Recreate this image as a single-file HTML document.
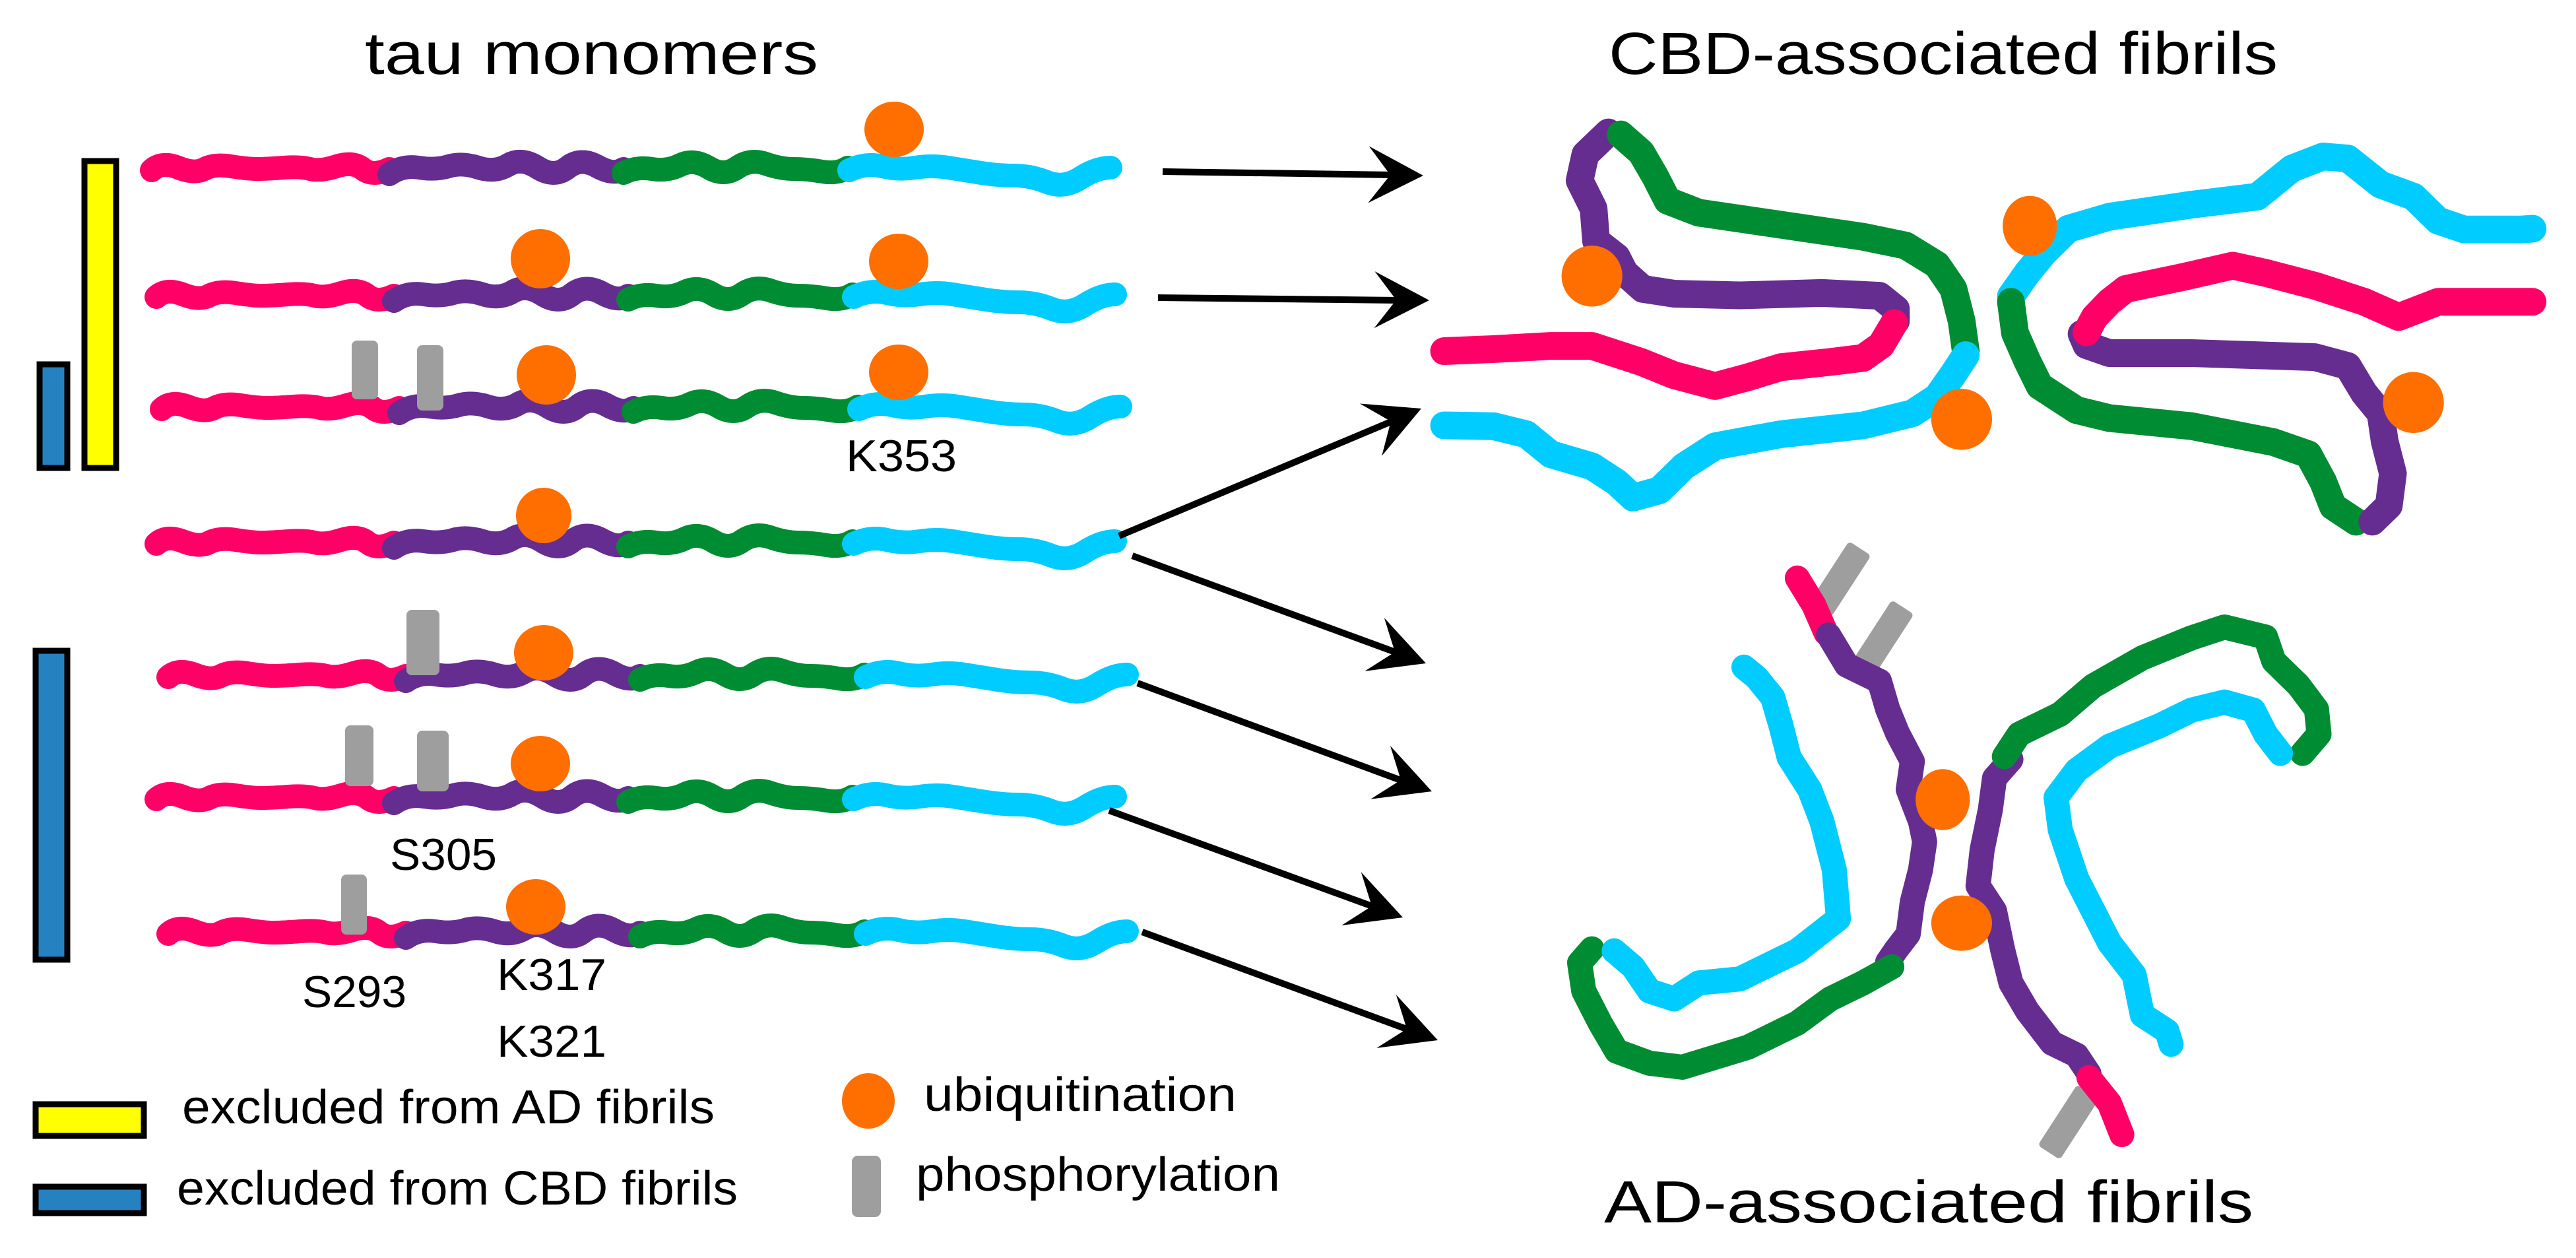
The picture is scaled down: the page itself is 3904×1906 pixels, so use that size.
<!DOCTYPE html>
<html><head><meta charset="utf-8"><style>html,body{margin:0;padding:0;background:#fff}svg{display:block}text{font-family:"Liberation Sans",sans-serif;fill:#000}</style></head><body>
<svg width="3904" height="1906" viewBox="0 0 3904 1906" xmlns="http://www.w3.org/2000/svg">
<defs>
<g id="row" fill="none" stroke-width="36" stroke-linecap="round" stroke-linejoin="round">
<path stroke="#ff0066" d="M0 0 q15 -14 40 -4 t40 2 t40 -4 t40 4 t40 -2 t40 2 t40 -4 t40 4 t40 0"/>
<path stroke="#662d91" d="M360 6 q20 -14 45 -10 t45 -2 t45 2 t45 -4 t45 4 t45 0 t45 -2 t40 4"/>
<path stroke="#008c33" d="M715 4 q20 -10 43 -6 t43 -6 t43 4 t43 0 t43 -6 t43 8 t43 4 t39 -6"/>
<path stroke="#00ccff" d="M1057 0 q25 -12 50 -6 t50 2 t50 0 t50 8 t50 4 t50 10 t50 -6 t46 -16"/>
</g>
<path id="ah" d="M0 0 L-83 -43 L-50 0 L-83 43 Z" fill="#000"/>
</defs>

<text x="553" y="112" font-size="90" textLength="687" lengthAdjust="spacingAndGlyphs">tau monomers</text>
<text x="2438" y="112" font-size="90" textLength="1014" lengthAdjust="spacingAndGlyphs">CBD-associated fibrils</text>
<text x="2431" y="1852" font-size="90" textLength="984" lengthAdjust="spacingAndGlyphs">AD-associated  fibrils</text>

<rect x="128" y="244" width="48" height="465" fill="#ffff00" stroke="#000" stroke-width="9"/>
<rect x="60" y="552" width="42" height="157" fill="#2581c0" stroke="#000" stroke-width="9"/>
<rect x="54" y="986" width="48" height="468" fill="#2581c0" stroke="#000" stroke-width="9"/>

<use href="#row" transform="translate(230,258)"/>
<use href="#row" transform="translate(237,450)"/>
<use href="#row" transform="translate(245,620)"/>
<use href="#row" transform="translate(237,824)"/>
<use href="#row" transform="translate(255,1026)"/>
<use href="#row" transform="translate(237,1211)"/>
<use href="#row" transform="translate(255,1415)"/>

<g fill="#9e9e9e">
<rect x="533" y="516" width="40" height="89" rx="8"/>
<rect x="632" y="523" width="40" height="99" rx="8"/>
<rect x="616" y="924" width="50" height="99" rx="8"/>
<rect x="523" y="1099" width="43" height="92" rx="8"/>
<rect x="632" y="1107" width="48" height="92" rx="8"/>
<rect x="517" y="1325" width="39" height="91" rx="8"/>
</g>
<g fill="#ff6f00">
<ellipse cx="1355" cy="196" rx="45" ry="42"/>
<ellipse cx="819" cy="392" rx="45" ry="45"/>
<ellipse cx="1362" cy="396" rx="45" ry="42"/>
<ellipse cx="828" cy="568" rx="45" ry="45"/>
<ellipse cx="1362" cy="564" rx="45" ry="42"/>
<ellipse cx="824" cy="781" rx="42" ry="42"/>
<ellipse cx="824" cy="989" rx="45" ry="42"/>
<ellipse cx="819" cy="1157" rx="45" ry="42"/>
<ellipse cx="812" cy="1374" rx="45" ry="42"/>
</g>

<g font-size="68">
<text x="1282" y="714" textLength="168" lengthAdjust="spacingAndGlyphs">K353</text>
<text x="591" y="1318" textLength="162" lengthAdjust="spacingAndGlyphs">S305</text>
<text x="458" y="1526" textLength="158" lengthAdjust="spacingAndGlyphs">S293</text>
<text x="753" y="1500" textLength="166" lengthAdjust="spacingAndGlyphs">K317</text>
<text x="753" y="1601" textLength="166" lengthAdjust="spacingAndGlyphs">K321</text>
</g>

<rect x="54" y="1673" width="164" height="48" fill="#ffff00" stroke="#000" stroke-width="9"/>
<rect x="54" y="1798" width="164" height="40" fill="#2581c0" stroke="#000" stroke-width="9"/>
<g font-size="72">
<text x="276" y="1702" textLength="807" lengthAdjust="spacingAndGlyphs">excluded from AD fibrils</text>
<text x="268" y="1825" textLength="850" lengthAdjust="spacingAndGlyphs">excluded from CBD fibrils</text>
<text x="1400" y="1683" textLength="474" lengthAdjust="spacingAndGlyphs">ubiquitination</text>
<text x="1388" y="1804" textLength="552" lengthAdjust="spacingAndGlyphs">phosphorylation</text>
</g>
<ellipse cx="1316" cy="1668" rx="40" ry="42" fill="#ff6f00"/>
<rect x="1291" y="1751" width="44" height="93" rx="9" fill="#9e9e9e"/>

<g stroke="#000" stroke-width="10" fill="none">
<line x1="1762" y1="260" x2="2110" y2="265"/>
<line x1="1755" y1="451" x2="2120" y2="455"/>
<line x1="1696" y1="812" x2="2115" y2="636"/>
<line x1="1716" y1="842" x2="2120" y2="990"/>
<line x1="1724" y1="1035" x2="2128" y2="1184"/>
<line x1="1681" y1="1228" x2="2085" y2="1375"/>
<line x1="1731" y1="1412" x2="2137" y2="1561"/>
</g>
<use href="#ah" transform="translate(2157,266) rotate(1)"/>
<use href="#ah" transform="translate(2166,455) rotate(0.6)"/>
<use href="#ah" transform="translate(2154,619) rotate(-22.8)"/>
<use href="#ah" transform="translate(2161,1005) rotate(20.1)"/>
<use href="#ah" transform="translate(2170,1199) rotate(20.2)"/>
<use href="#ah" transform="translate(2126,1390) rotate(20)"/>
<use href="#ah" transform="translate(2179,1576) rotate(20.1)"/>

<g transform="translate(1952,0) scale(1.245,0.608)" fill="none" stroke-linecap="round" stroke-linejoin="round">
<g stroke-width="42">
<path vector-effect="non-scaling-stroke" stroke="#662d91" d="M390 330 L362 385 L355 450 L372 520 L375 600 L400 640 L410 680 L432 720 L470 732 L550 736 L650 730 L720 737 L740 770 L740 800"/>
<path vector-effect="non-scaling-stroke" stroke="#ff0066" d="M738 805 L722 860 L700 892 L660 902 L600 915 L560 940 L520 962 L470 935 L430 902 L370 862 L320 862 L250 870 L190 875"/>
<path vector-effect="non-scaling-stroke" stroke="#008c33" d="M405 335 L430 380 L447 440 L462 500 L500 530 L600 560 L700 590 L752 612 L790 660 L810 720 L820 800 L825 875"/>
<path vector-effect="non-scaling-stroke" stroke="#00ccff" d="M825 885 L810 932 L790 990 L760 1030 L700 1060 L600 1082 L520 1112 L482 1162 L452 1222 L420 1240 L400 1202 L370 1162 L320 1132 L290 1082 L250 1062 L190 1060"/>
<path vector-effect="non-scaling-stroke" stroke="#00ccff" d="M880 738 L900 680 L920 630 L950 570 L1000 540 L1100 510 L1180 490 L1222 420 L1260 390 L1290 395 L1330 460 L1370 490 L1400 550 L1432 572 L1500 572 L1515 570"/>
<path vector-effect="non-scaling-stroke" stroke="#008c33" d="M880 752 L885 830 L900 900 L915 962 L960 1022 L1000 1042 L1100 1062 L1200 1102 L1242 1132 L1260 1200 L1272 1262 L1300 1300"/>
<path vector-effect="non-scaling-stroke" stroke="#662d91" d="M1320 1300 L1340 1260 L1345 1180 L1335 1100 L1330 1030 L1310 980 L1290 912 L1250 890 L1100 880 L1000 880 L972 860 L966 832"/>
<path vector-effect="non-scaling-stroke" stroke="#ff0066" d="M972 828 L982 790 L1000 752 L1020 720 L1090 690 L1150 662 L1190 680 L1250 712 L1310 752 L1352 790 L1400 752 L1470 752 L1515 752"/>
</g>
<g fill="#ff6f00">
<ellipse cx="370" cy="688" rx="37" ry="76"/>
<ellipse cx="820" cy="1045" rx="37" ry="76"/>
<ellipse cx="903" cy="563" rx="33" ry="75"/>
<ellipse cx="1370" cy="1003" rx="37" ry="76"/>
</g>
</g>

<g fill="#9e9e9e">
<rect x="-55" y="-20" width="110" height="40" rx="6" transform="translate(2789,877) rotate(-57)"/>
<rect x="-55" y="-20" width="110" height="40" rx="6" transform="translate(2854,966) rotate(-57)"/>
<rect x="-55" y="-20" width="110" height="40" rx="6" transform="translate(3135,1700) rotate(-57)"/>
</g>
<g transform="translate(1952,953) scale(1.245,0.608)" fill="none" stroke-linecap="round" stroke-linejoin="round">
<g stroke-width="38">
<path vector-effect="non-scaling-stroke" stroke="#ff0066" d="M620 -127 L640 -60 L655 10"/>
<path vector-effect="non-scaling-stroke" stroke="#662d91" d="M658 15 L680 90 L720 130 L730 200 L742 260 L760 330 L755 400 L770 480 L775 530 L770 600 L760 680 L755 760 L740 800 L730 830"/>
<path vector-effect="non-scaling-stroke" stroke="#008c33" d="M735 842 L700 882 L660 922 L620 982 L560 1042 L480 1092 L440 1082 L400 1052 L380 982 L360 902 L355 832 L370 797"/>
<path vector-effect="non-scaling-stroke" stroke="#00ccff" d="M397 802 L420 842 L440 902 L470 922 L500 882 L550 872 L620 802 L670 722 L665 600 L650 480 L635 400 L610 320 L600 240 L590 170 L570 120 L555 95"/>
<path vector-effect="non-scaling-stroke" stroke="#662d91" d="M880 325 L860 372 L855 450 L845 550 L840 640 L860 702 L870 800 L880 882 L900 952 L930 1032 L960 1062 L975 1108"/>
<path vector-effect="non-scaling-stroke" stroke="#ff0066" d="M975 1118 L1000 1182 L1015 1260"/>
<path vector-effect="non-scaling-stroke" stroke="#008c33" d="M872 318 L890 262 L940 212 L980 142 L1040 72 L1100 22 L1140 -5 L1190 20 L1200 80 L1230 140 L1252 200 L1255 262 L1235 310"/>
<path vector-effect="non-scaling-stroke" stroke="#00ccff" d="M1208 310 L1190 262 L1175 202 L1140 182 L1100 202 L1060 242 L1000 292 L960 352 L935 420 L940 500 L960 622 L980 702 L1000 782 L1030 862 L1040 962 L1070 1002 L1075 1035"/>
</g>
<g fill="#ff6f00">
<ellipse cx="797" cy="425" rx="33" ry="76"/>
<ellipse cx="820" cy="733" rx="37" ry="69"/>
</g>
</g>
</svg>
</body></html>
